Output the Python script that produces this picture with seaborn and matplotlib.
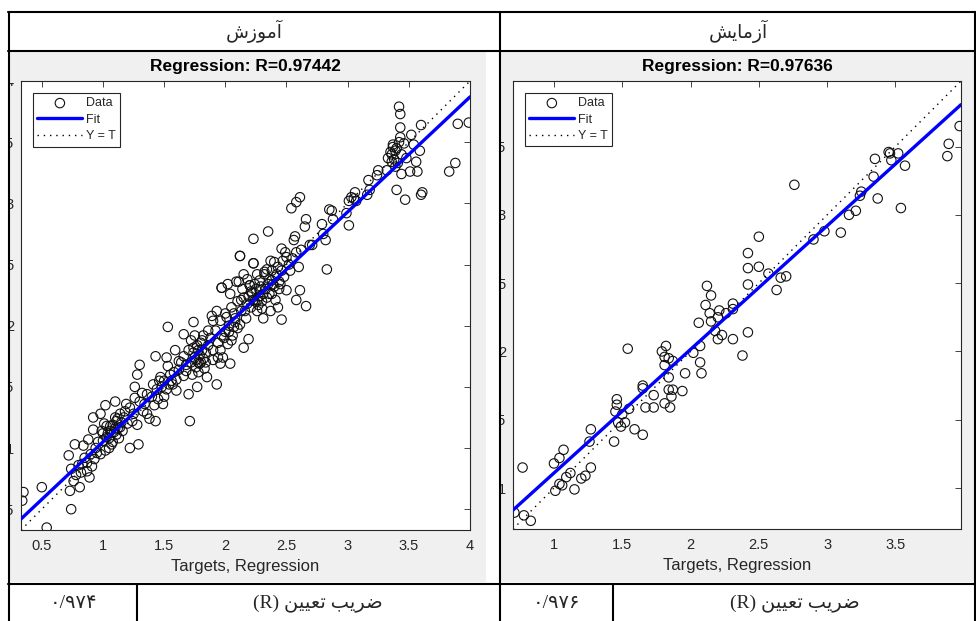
import matplotlib
matplotlib.use("Agg")
import matplotlib.pyplot as plt
from matplotlib.patches import Rectangle
from matplotlib.lines import Line2D
from matplotlib.transforms import Bbox
from matplotlib.ticker import StrMethodFormatter
import numpy as np
import seaborn as sns

# ---- data ------------------------------------------------------------------
# training set: targets / network outputs
train_targets = [
    0.35, 0.34, 0.50, 0.54, 0.74, 0.73, 0.72, 0.77, 0.74, 0.76,
    0.81, 0.84, 0.83, 0.88, 0.89, 0.87, 0.92, 0.92, 0.98, 0.99,
    0.93, 0.95, 1.02, 1.10, 1.03, 1.06, 1.08, 1.11, 1.14, 1.07,
    1.02, 0.98, 1.14, 1.11, 1.19, 1.22, 1.25, 1.28, 1.22, 1.29,
    1.26, 1.28, 1.30, 1.26, 1.33, 1.38, 1.43, 1.36, 1.41, 1.43,
    1.47, 1.45, 1.49, 1.52, 1.53, 1.53, 1.56, 1.60, 1.59, 1.62,
    1.66, 1.66, 1.70, 1.68, 1.71, 1.74, 1.74, 1.75, 1.78, 1.79,
    1.77, 1.81, 1.83, 1.85, 1.86, 1.89, 1.90, 1.93, 1.94, 1.96,
    1.98, 1.96, 1.97, 2.01, 2.02, 2.04, 2.05, 2.07, 2.11, 2.12,
    2.12, 2.13, 2.15, 2.19, 2.20, 2.23, 2.23, 2.26, 2.28, 2.31,
    2.32, 2.35, 2.34,
    0.78, 0.80, 0.82, 0.85, 0.87, 0.90, 0.91, 0.94, 0.96, 1.00,
    1.04, 1.06, 1.09, 1.10, 1.12, 1.13, 1.15, 1.17, 1.05, 1.01,
    1.48, 1.50, 1.52, 1.55, 1.57, 1.72, 1.74, 1.76, 1.77, 1.79,
    1.80, 1.81, 1.82, 1.84, 1.76, 1.78, 1.97, 2.00, 2.02, 2.03,
    2.06, 2.08, 2.16, 2.18, 2.19, 2.21, 2.22, 2.24, 2.25, 2.27,
    2.28, 2.30, 2.36, 2.38, 2.40, 2.41, 2.43, 2.44, 2.38,
    3.42, 3.43, 3.43, 3.60, 3.90, 3.99, 3.88, 3.83, 3.61, 3.60,
    3.47, 3.40, 3.52, 3.43, 3.37, 3.35, 3.33, 3.36, 3.39, 3.46,
    3.48, 3.56, 3.57, 3.51, 3.44, 3.59, 3.54, 3.32, 3.25, 3.24,
    3.17, 3.18, 3.16, 3.06, 3.01, 3.07, 2.99, 3.01, 2.87, 2.85,
    2.88, 2.79, 2.80, 2.82, 2.83, 2.69, 2.71, 2.66, 2.65, 2.61,
    2.58, 2.54, 2.57, 2.56, 2.58, 2.50, 2.46, 2.47, 2.53, 2.35,
    2.23, 2.12, 2.23, 2.37, 2.32, 2.38, 2.45, 2.50, 2.61, 2.58,
    2.66, 2.46, 2.43, 2.41, 2.15, 2.09, 1.97, 2.04, 2.15, 2.20,
    2.28, 2.31, 2.26, 2.37, 1.93, 1.90, 2.07,
    3.36, 3.38, 3.40, 3.41, 3.44, 3.37, 3.42, 3.39, 3.03, 3.05,
    1.00, 1.03, 1.05, 1.08, 1.10, 1.12, 1.16, 1.18, 1.20, 1.24,
    1.30, 1.32, 1.34, 1.36, 1.40, 1.42, 1.44, 1.46, 1.50, 1.54,
    1.58, 1.60, 1.62, 1.64, 1.66, 1.68, 1.70, 1.72, 1.73, 1.75,
    1.78, 1.80, 1.82, 1.84, 1.86, 1.88, 1.90, 1.92, 1.94, 1.96,
    1.99, 2.00, 2.03, 2.05, 2.08, 2.10, 2.10, 2.13, 2.14, 2.17,
    2.18, 2.21, 2.24, 2.26, 2.29, 2.30, 2.33, 2.34, 2.36, 2.39,
    2.40, 2.42, 2.44, 2.46, 2.48, 2.49, 2.52, 2.55, 2.60, 2.62,
]
train_outputs = [
    0.64, 0.57, 0.68, 0.35, 0.50, 0.65, 0.94, 1.03, 0.83, 0.73,
    0.68, 1.02, 0.87, 1.07, 0.76, 0.81, 1.25, 1.15, 1.28, 1.14,
    0.91, 0.96, 1.35, 1.38, 1.09, 1.14, 1.19, 1.22, 1.17, 1.03,
    0.98, 0.95, 1.28, 1.11, 1.36, 1.33, 1.28, 1.19, 1.00, 1.03,
    1.50, 1.60, 1.68, 1.41, 1.30, 1.24, 1.22, 1.44, 1.52, 1.75,
    1.58, 1.40, 1.36, 1.74, 1.67, 1.99, 1.55, 1.47, 1.80, 1.71,
    1.93, 1.59, 1.44, 1.63, 1.22, 2.03, 1.82, 1.74, 1.80, 1.69,
    1.50, 1.88, 1.65, 1.58, 1.96, 2.08, 1.80, 1.52, 1.74, 1.69,
    1.74, 2.04, 2.31, 2.07, 2.34, 1.69, 1.88, 1.99, 2.36, 2.57,
    2.01, 2.21, 1.82, 1.89, 2.33, 2.51, 2.21, 2.12, 2.29, 2.06,
    2.42, 2.34, 2.23,
    0.78, 0.86, 0.80, 0.92, 0.88, 0.95, 0.85, 1.00, 1.05, 1.06,
    1.12, 1.18, 1.13, 1.25, 1.16, 1.08, 1.21, 1.25, 1.00, 1.20,
    1.50, 1.55, 1.48, 1.60, 1.52, 1.70, 1.78, 1.72, 1.84, 1.76,
    1.70, 1.80, 1.73, 1.78, 1.66, 1.62, 1.92, 1.95, 1.85, 2.00,
    1.92, 2.03, 2.12, 2.18, 2.24, 2.15, 2.27, 2.20, 2.30, 2.17,
    2.24, 2.14, 2.38, 2.45, 2.32, 2.40, 2.48, 2.36, 2.26,
    3.79, 3.73, 3.62, 3.64, 3.65, 3.66, 3.33, 3.26, 3.09, 3.07,
    3.03, 3.11, 3.56, 3.54, 3.48, 3.42, 3.37, 3.34, 3.43, 3.49,
    3.37, 3.34, 3.26, 3.26, 3.24, 3.43, 3.48, 3.27, 3.27, 3.23,
    3.19, 3.11, 3.07, 3.09, 3.02, 3.02, 2.92, 2.82, 2.94, 2.95,
    2.87, 2.83, 2.75, 2.70, 2.46, 2.66, 2.66, 2.87, 2.81, 3.05,
    3.01, 2.96, 2.73, 2.70, 2.60, 2.56, 2.63, 2.53, 2.45, 2.77,
    2.71, 2.57, 2.51, 2.53, 2.44, 2.37, 2.34, 2.29, 2.29, 2.21,
    2.16, 2.05, 2.15, 2.21, 2.42, 2.36, 2.31, 2.26, 2.23, 2.33,
    2.37, 2.26, 2.21, 2.12, 2.12, 2.04, 2.10,
    3.40, 3.36, 3.45, 3.33, 3.40, 3.46, 3.50, 3.30, 3.05, 3.04,
    1.12, 1.18, 1.08, 1.05, 1.16, 1.24, 1.14, 1.30, 1.20, 1.22,
    1.38, 1.45, 1.36, 1.28, 1.42, 1.35, 1.48, 1.55, 1.42, 1.52,
    1.62, 1.56, 1.64, 1.70, 1.75, 1.68, 1.80, 1.88, 1.60, 1.92,
    1.70, 1.86, 1.92, 1.70, 1.84, 1.90, 1.72, 1.96, 1.86, 1.80,
    1.90, 2.10, 1.95, 2.15, 2.06, 1.98, 2.20, 2.12, 2.30, 2.06,
    2.38, 2.28, 2.34, 2.42, 2.32, 2.20, 2.30, 2.46, 2.26, 2.34,
    2.52, 2.42, 2.30, 2.45, 2.40, 2.60, 2.50, 2.55, 2.48, 2.62,
]

# test set
test_targets = [
    0.71, 0.77, 0.78, 0.83, 1.00, 1.04, 1.07, 1.04, 1.01, 1.06,
    1.09, 1.12, 1.15, 1.20, 1.23, 1.27, 1.26, 1.27, 1.44, 1.46,
    1.46, 1.45, 1.47, 1.49, 1.52, 1.50, 1.55, 1.54, 1.59, 1.65,
    1.65, 1.65, 1.67, 1.73, 1.73, 1.79, 1.82, 1.81, 1.84, 1.81,
    1.87, 1.84, 1.84, 1.87, 1.86, 1.85, 1.81, 1.94, 1.96, 2.02,
    2.07, 2.07, 2.08, 2.06, 2.11, 2.12, 2.15, 2.14, 2.15, 2.18,
    2.20, 2.21, 2.20, 2.23, 2.26, 2.31, 2.31, 2.31, 2.38, 2.42,
    2.42, 2.42, 2.42, 2.50, 2.50, 2.57, 2.63, 2.66, 2.70, 2.76,
    2.90, 2.98, 3.10, 3.16, 3.21, 3.24, 3.25, 3.34, 3.35, 3.37,
    3.45, 3.46, 3.47, 3.52, 3.54, 3.57, 3.88, 3.89, 3.97,
]
test_outputs = [
    0.82, 1.15, 0.80, 0.76, 1.18, 1.22, 1.28, 1.03, 0.98, 1.02,
    1.08, 1.11, 0.99, 1.07, 1.09, 1.15, 1.34, 1.43, 1.34, 1.65,
    1.61, 1.56, 1.48, 1.45, 1.48, 1.54, 1.58, 2.02, 1.43, 1.39,
    1.75, 1.73, 1.59, 1.59, 1.68, 2.00, 2.04, 1.96, 1.95, 1.90,
    1.93, 1.81, 1.72, 1.72, 1.67, 1.59, 1.62, 1.71, 1.84, 1.99,
    2.04, 1.92, 1.84, 2.21, 2.34, 2.48, 2.41, 2.28, 2.22, 2.15,
    2.09, 2.30, 2.25, 2.12, 2.28, 2.35, 2.31, 2.09, 1.97, 2.14,
    2.49, 2.61, 2.72, 2.62, 2.84, 2.57, 2.45, 2.54, 2.55, 3.22,
    2.82, 2.88, 2.87, 3.00, 3.03, 3.14, 3.17, 3.28, 3.41, 3.12,
    3.46, 3.45, 3.40, 3.45, 3.05, 3.36, 3.43, 3.52, 3.65,
]

# regression fit (slope, intercept) and axis ranges
train_fit = (0.94, 0.11)
test_fit = (0.905, 0.205)
train_lim = (0.33, 4.0)
test_lim = (0.70, 3.98)
train_ticks = [0.5, 1, 1.5, 2, 2.5, 3, 3.5, 4]
test_ticks = [1, 1.5, 2, 2.5, 3, 3.5]
train_title = "Regression: R=0.97442"
test_title = "Regression: R=0.97636"

# table text (Persian, written in shaped/visual order)
head_train = "\uFEB5\uFEAF\uFEEE\uFEE3\uFE81"          # آموزش
head_test = "\uFEB6\uFEF3\uFE8E\uFEE3\uFEAF\uFE81"     # آزمایش
row_label = "(R) \uFEE6\uFEF4\uFEF4\uFECC\uFE97 \uFE90\uFEF3\uFEAE\uFEBF"  # ضریب تعیین (R)
r_train = "\u06F0/\u06F9\u06F7\u06F4"   # ۰/۹۷۴
r_test = "\u06F0/\u06F9\u06F7\u06F6"    # ۰/۹۷۶

# ---- figure ----------------------------------------------------------------
W, H = 976, 621
sns.set_style("white")
plt.rcParams['font.family'] = ['Liberation Sans', 'DejaVu Sans']

fig = plt.figure(figsize=(W / 100, H / 100), dpi=100)
fig.patch.set_facecolor('white')


def fx(px):
    return px / W


def fy(py):
    return 1 - py / H


# grey MATLAB figure backgrounds
for x0, x1 in [(9, 486), (501, 976)]:
    fig.patches.append(Rectangle((fx(x0), fy(582)), (x1 - x0) / W, (582 - 52) / H,
                                 transform=fig.transFigure, facecolor='#f0f0f0',
                                 edgecolor='none', zorder=-1))

ink = '#262626'


def draw_panel(px_rect, targets, outputs, lim, ticks, fit, title, clip_box):
    x0, y0, x1, y1 = px_rect
    ax = fig.add_axes([fx(x0), fy(y1), (x1 - x0) / W, (y1 - y0) / H])
    ax.set_facecolor('white')
    lo, hi = lim

    sns.scatterplot(x=targets, y=outputs, ax=ax, marker='o', s=46,
                    fc='none', edgecolor='#111111', linewidth=0.8,
                    label='Data', zorder=2)
    xs = np.array([lo, hi])
    sns.lineplot(x=xs, y=fit[0] * xs + fit[1], ax=ax, color='#0000ff',
                 lw=2.4, label='Fit', zorder=3)
    sns.lineplot(x=xs, y=xs, ax=ax, color='black', lw=1,
                 linestyle=(0, (1, 3.5)), label='Y = T', zorder=1)

    ax.set_xlim(lo, hi)
    ax.set_ylim(lo, hi)
    ax.set_xticks(ticks)
    ax.set_yticks(ticks)
    ax.xaxis.set_major_formatter(StrMethodFormatter('{x:g}'))
    ax.yaxis.set_major_formatter(StrMethodFormatter('{x:g}'))
    ax.tick_params(direction='in', length=4, width=0.6, top=True, right=True,
                   labelsize=10.5, colors=ink)
    ax.tick_params(axis='x', pad=6.5)
    ax.tick_params(axis='y', pad=5)
    for sp in ax.spines.values():
        sp.set_color(ink)
        sp.set_linewidth(0.8)

    ax.set_xlabel('Targets, Regression', fontsize=12, color=ink, labelpad=4)
    ax.set_ylabel('')
    ax.set_title(title, fontsize=12.5, fontweight='bold', color='black', pad=7)

    handles, labels = ax.get_legend_handles_labels()
    order = [labels.index(k) for k in ['Data', 'Fit', 'Y = T']]
    leg = ax.legend([handles[i] for i in order], [labels[i] for i in order],
                    loc='upper left', bbox_to_anchor=(12 / 449, 1 - 12 / 449),
                    borderaxespad=0, frameon=True, fancybox=False,
                    edgecolor=ink, framealpha=1, fontsize=9,
                    handlelength=3.6, handletextpad=0.3, labelspacing=0.35,
                    borderpad=0.35, scatterpoints=1)
    leg.get_frame().set_linewidth(0.8)

    # y tick labels are cut off by the table border in the original
    for lab in ax.get_yticklabels():
        lab.set_clip_box(clip_box)
        lab.set_clip_on(True)
    return ax


draw_panel((21, 81, 470, 530), train_targets, train_outputs, train_lim,
           train_ticks, train_fit, train_title,
           Bbox.from_extents(9, 0, 500, H - 83))
draw_panel((513, 81, 961, 529), test_targets, test_outputs, test_lim,
           test_ticks, test_fit, test_title,
           Bbox.from_extents(501, 0, W, H))

# ---- table grid ------------------------------------------------------------
def hline(y, xa, xb):
    fig.add_artist(Line2D([fx(xa), fx(xb)], [fy(y), fy(y)], transform=fig.transFigure,
                          color='black', lw=1.5, zorder=10))


def vline(x, ya, yb):
    fig.add_artist(Line2D([fx(x), fx(x)], [fy(ya), fy(yb)], transform=fig.transFigure,
                          color='black', lw=1.5, zorder=10))


hline(12, 8, 976)
hline(51, 8, 976)
hline(584, 8, 976)
vline(8.5, 12, 621)
vline(500, 12, 621)
vline(975, 12, 621)
vline(137, 584, 621)
vline(613, 584, 621)

fa_font = ['Liberation Serif', 'DejaVu Sans']
fig.text(fx(254), fy(31), head_train, ha='center', va='center', fontsize=13.5,
         family=fa_font)
fig.text(fx(738), fy(31), head_test, ha='center', va='center', fontsize=13.5,
         family=fa_font)
fig.text(fx(73), fy(603), r_train, ha='center', va='center', fontsize=14,
         family=fa_font)
fig.text(fx(318), fy(603), row_label, ha='center', va='center', fontsize=14,
         family=fa_font)
fig.text(fx(556), fy(603), r_test, ha='center', va='center', fontsize=14,
         family=fa_font)
fig.text(fx(795), fy(603), row_label, ha='center', va='center', fontsize=14,
         family=fa_font)

fig.savefig('out.png', dpi=100)
